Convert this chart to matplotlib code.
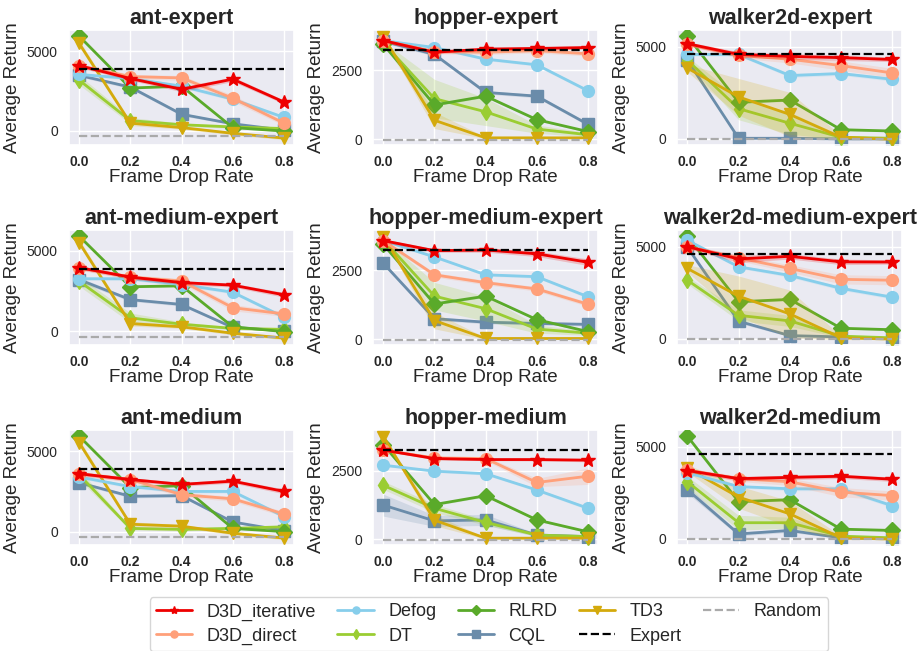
import matplotlib
matplotlib.use("Agg")
import matplotlib.pyplot as plt
import seaborn as sns
import numpy as np
from matplotlib.ticker import MultipleLocator

sns.set_theme(style="darkgrid")
plt.rcParams['font.family'] = ['Liberation Sans', 'DejaVu Sans']

drop_rates = [0.0, 0.2, 0.4, 0.6, 0.8]
tasks = ["ant-expert", "hopper-expert", "walker2d-expert",
         "ant-medium-expert", "hopper-medium-expert", "walker2d-medium-expert",
         "ant-medium", "hopper-medium", "walker2d-medium"]
expert_score = [3880, 3234, 4592, 3880, 3234, 4592, 3880, 3234, 4592]
random_score = [-326, -20, 2, -326, -20, 2, -326, -20, 2]
ytick_step = [5000, 2500, 5000, 5000, 2500, 5000, 5000, 2500, 5000]

D3D_iterative = [
    [4100, 3290, 2610, 3250, 1810],
    [3585, 3162, 3276, 3300, 3333],
    [5170, 4585, 4480, 4410, 4310],
    [3960, 3370, 3030, 2870, 2270],
    [3585, 3219, 3242, 3105, 2797],
    [5000, 4340, 4480, 4180, 4170],
    [3600, 3240, 2940, 3140, 2500],
    [3245, 2936, 2900, 2900, 2878],
    [3700, 3260, 3330, 3390, 3230],
]
D3D_direct = [
    [4100, 3410, 3330, 2050, 480],
    [3585, 3185, 3162, 3219, 3105],
    [5140, 4530, 4325, 3980, 3580],
    [3960, 3370, 3130, 1470, 1080],
    [3585, 2340, 2055, 1826, 1267],
    [5000, 4390, 3820, 3230, 3180],
    [3600, 3240, 2300, 2040, 1100],
    [3245, 2958, 2936, 2064, 2294],
    [3730, 3260, 3090, 2530, 2340],
]
Defog = [
    [3550, 3290, 2810, 1990, 840],
    [3585, 3333, 2911, 2705, 1758],
    [4585, 4585, 3440, 3550, 3235],
    [3270, 3270, 2910, 2430, 880],
    [3585, 2991, 2340, 2272, 1541],
    [5350, 3910, 3440, 2740, 2260],
    [3400, 2800, 2500, 2500, 940],
    [2695, 2477, 2385, 1789, 1124],
    [3580, 2830, 2710, 2710, 1790],
]
DT = [
    [3190, 640, 380, 240, 140],
    [3505, 1473, 993, 365, 160],
    [4270, 1640, 850, 90, 35],
    [3110, 840, 440, 180, 120],
    [3619, 1564, 1107, 365, 217],
    [3180, 1270, 970, 140, 50],
    [3540, 200, 140, 200, 300],
    [1961, 1124, 608, 149, 92],
    [3090, 870, 870, 140, 50],
]
RLRD = [
    [5960, 2690, 2810, 200, -20],
    [3447, 1244, 1564, 708, 274],
    [5570, 1990, 2110, 500, 430],
    [5920, 2770, 2830, 280, -20],
    [3447, 1279, 1564, 708, 274],
    [5570, 2010, 2140, 570, 490],
    [5940, 2740, 2860, 200, 0],
    [3440, 1261, 1583, 700, 264],
    [5560, 2010, 2120, 520, 450],
]
CQL = [
    [3490, 2750, 1040, 440, 40],
    [3562, 3082, 1700, 1564, 537],
    [4270, 35, 35, 0, 0],
    [3210, 1970, 1670, 240, 40],
    [2763, 742, 616, 571, 537],
    [4970, 950, 170, 100, 0],
    [3040, 2200, 2240, 600, 60],
    [1239, 665, 700, 149, 92],
    [2660, 260, 450, 50, 0],
]
TD3 = [
    [5500, 480, 200, -160, -460],
    [3733, 685, 46, 46, 46],
    [3840, 2280, 1330, 90, -20],
    [5520, 480, 280, -120, -420],
    [3733, 674, 23, 23, 23],
    [3820, 2310, 1350, 50, -20],
    [5540, 460, 340, -100, -400],
    [3739, 688, 34, 34, 34],
    [3820, 2260, 1350, 50, -20],
]

# standard deviations (shaded bands)
D3D_iterative_std = [
    [120, 120, 150, 150, 120],
    [60, 60, 60, 60, 60],
    [100, 150, 150, 150, 120],
    [120, 120, 120, 120, 150],
    [60, 60, 80, 100, 120],
    [100, 200, 150, 150, 120],
    [120, 120, 120, 120, 150],
    [40, 40, 40, 50, 60],
    [100, 120, 120, 120, 120],
]
D3D_direct_std = [
    [150, 150, 150, 200, 150],
    [60, 80, 80, 80, 80],
    [100, 150, 200, 250, 250],
    [150, 150, 150, 200, 150],
    [60, 80, 80, 80, 80],
    [100, 150, 200, 250, 250],
    [150, 150, 150, 150, 150],
    [50, 60, 80, 150, 300],
    [100, 150, 200, 250, 250],
]
Defog_std = [
    [100, 100, 100, 100, 100],
    [40, 40, 50, 50, 60],
    [80, 80, 100, 100, 100],
    [100, 100, 100, 100, 100],
    [40, 40, 50, 50, 60],
    [80, 80, 100, 100, 100],
    [100, 100, 100, 100, 100],
    [40, 40, 50, 50, 60],
    [80, 80, 100, 100, 100],
]
DT_std = [
    [300, 200, 100, 80, 80],
    [50, 700, 500, 150, 80],
    [200, 600, 600, 100, 30],
    [300, 300, 150, 80, 80],
    [50, 500, 450, 150, 80],
    [200, 300, 300, 80, 30],
    [300, 100, 100, 80, 80],
    [150, 150, 100, 50, 30],
    [300, 400, 300, 80, 30],
]
RLRD_std = [
    [60, 60, 60, 40, 40],
    [40, 40, 40, 40, 30],
    [60, 60, 60, 40, 40],
    [60, 60, 60, 40, 40],
    [40, 40, 40, 40, 30],
    [60, 60, 60, 40, 40],
    [60, 60, 60, 40, 40],
    [40, 40, 40, 40, 30],
    [60, 60, 60, 40, 40],
]
CQL_std = [
    [100, 100, 100, 60, 40],
    [60, 60, 60, 60, 60],
    [150, 20, 20, 10, 10],
    [150, 100, 100, 60, 40],
    [60, 60, 60, 60, 60],
    [100, 100, 60, 40, 10],
    [100, 100, 100, 60, 40],
    [400, 200, 200, 50, 50],
    [200, 100, 100, 30, 10],
]
TD3_std = [
    [200, 150, 100, 100, 100],
    [50, 300, 30, 30, 30],
    [200, 1000, 1200, 100, 20],
    [200, 150, 100, 100, 100],
    [50, 300, 30, 30, 30],
    [200, 1100, 1300, 100, 20],
    [200, 150, 100, 100, 100],
    [50, 200, 30, 30, 30],
    [200, 600, 700, 100, 20],
]

methods = [
    ("CQL", CQL, CQL_std, "#6a8caa", "s", 2),
    ("DT", DT, DT_std, "#9acd32", "d", 3),
    ("RLRD", RLRD, RLRD_std, "#5aaa2a", "D", 4),
    ("TD3", TD3, TD3_std, "#d4aa0c", "v", 5),
    ("Defog", Defog, Defog_std, "#87ceeb", "o", 6),
    ("D3D_direct", D3D_direct, D3D_direct_std, "#ffa07a", "o", 7),
    ("D3D_iterative", D3D_iterative, D3D_iterative_std, "#ee0000", "*", 8),
]
legend_order = ["D3D_iterative", "D3D_direct", "Defog", "DT", "RLRD", "CQL", "TD3", "Expert", "Random"]

fig, axes = plt.subplots(3, 3, figsize=(9.19, 6.51), dpi=100)
fig.subplots_adjust(left=0.075, right=0.982, top=0.954, bottom=0.163,
                    wspace=0.35, hspace=0.74)

x = np.array(drop_rates)
handles = {}
for i, ax in enumerate(axes.flat):
    for name, vals, stds, color, marker, z in methods:
        v = np.array(vals[i], dtype=float)
        s = np.array(stds[i], dtype=float)
        ax.fill_between(x, v - s, v + s, color=color, alpha=0.2, lw=0, zorder=z)
        ms = 10 if marker == "*" else 8.5
        if marker == "D":
            ms = 8
        h, = ax.plot(x, v, color=color, marker=marker, lw=2, ms=ms, zorder=z + 0.5, label=name)
        handles[name] = h
    h_exp, = ax.plot([x[0], x[-1]], [expert_score[i]] * 2, color="black", ls="--", lw=1.6, zorder=9)
    h_rand, = ax.plot([x[0], x[-1]], [random_score[i]] * 2, color="#aaaaaa", ls="--", lw=1.6, zorder=9)
    handles["Expert"] = h_exp
    handles["Random"] = h_rand
    ax.set_title(tasks[i], fontsize=15.5, fontweight="bold", pad=4)
    ax.set_xlabel("Frame Drop Rate", fontsize=13.5, labelpad=0)
    ax.set_ylabel("Average Return", fontsize=13.5, labelpad=4)
    ax.set_xticks(drop_rates)
    ax.set_xticklabels(["%.1f" % d for d in drop_rates], fontweight="bold", fontsize=10)
    ax.yaxis.set_major_locator(MultipleLocator(ytick_step[i]))
    ax.tick_params(axis="y", labelsize=10, pad=2)
    ax.tick_params(axis="x", pad=1)

leg = fig.legend([handles[n] for n in legend_order], legend_order, ncol=5,
                 loc="upper center", bbox_to_anchor=(0.532, 1 - 588 / 651),
                 fontsize=13, frameon=True, handlelength=2.0, columnspacing=1.2,
                 markerscale=0.6, borderpad=0.35, labelspacing=0.4,
                 handletextpad=0.8)
leg.get_frame().set_edgecolor("#cccccc")
leg.get_frame().set_facecolor("white")

fig.savefig("out.png", dpi=100)
